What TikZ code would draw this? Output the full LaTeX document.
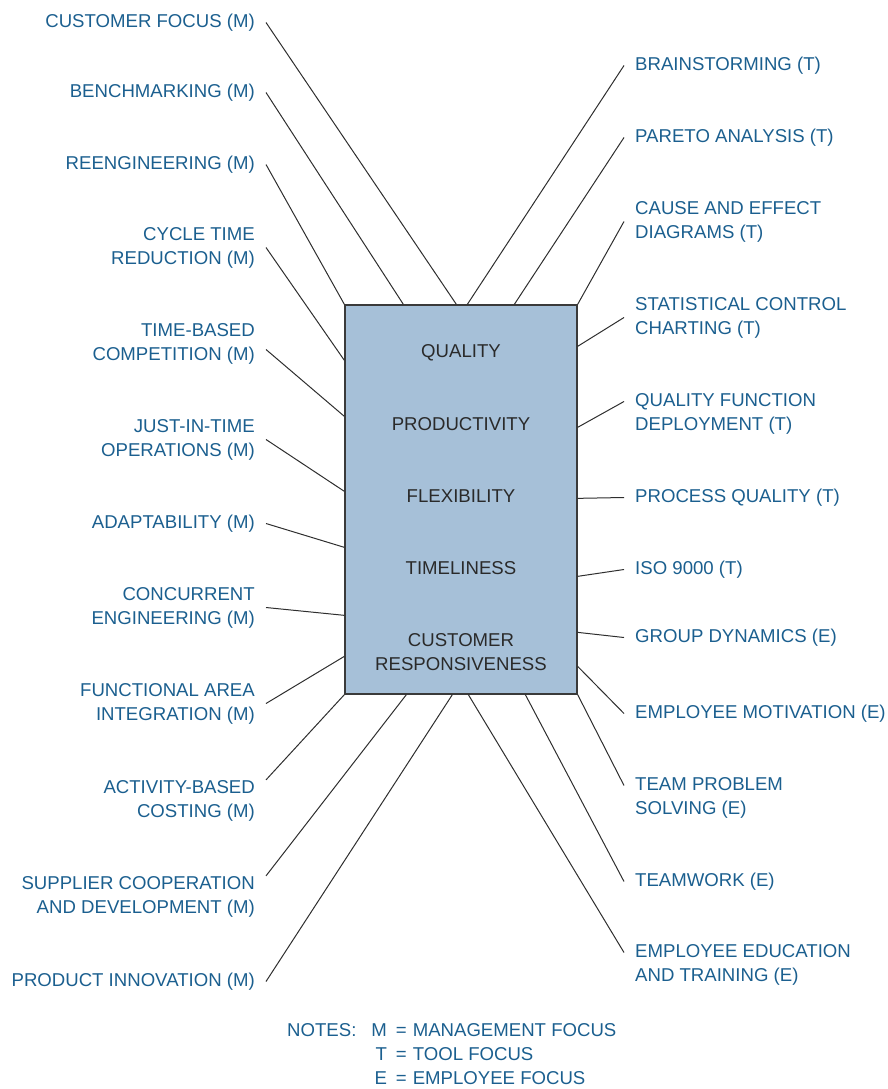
\documentclass[tikz,border=0pt]{standalone}
\usepackage{fontspec}
\setmainfont{Liberation Sans}
\usepackage{tikz}
\definecolor{FocusBlue}{HTML}{1B5F8F}
\definecolor{BoxFill}{HTML}{A6C0D8}
\definecolor{BoxEdge}{HTML}{3A3A3A}
\definecolor{LineGray}{HTML}{2E2E2E}
\definecolor{FactorText}{HTML}{2A2A2A}
\newcommand{\figfont}{\fontsize{18.6}{24}\selectfont}

\begin{document}
\begin{tikzpicture}[x=1pt,y=-1pt,
    leftlabel/.style={text=FocusBlue,font=\figfont,anchor=east,align=right,inner xsep=11pt,inner ysep=0pt,yshift=-2.5pt},
    rightlabel/.style={text=FocusBlue,font=\figfont,anchor=west,align=left,inner xsep=11pt,inner ysep=0pt,yshift=-2.5pt},
    factor/.style={text=FactorText,font=\figfont,align=center,inner sep=0pt},
    spoke/.style={LineGray,line width=1pt}]
  \useasboundingbox (0,0) rectangle (887,1089);

  \node[draw=BoxEdge,fill=BoxFill,line width=1.3pt,minimum width=232pt,minimum height=389pt,inner sep=0pt] (box) at (461,499.5) {};
  \node[factor] (qual) at (461,353) {QUALITY};
  \node[factor] (prod) at (461,424) {PRODUCTIVITY};
  \node[factor] (flex) at (461,496) {FLEXIBILITY};
  \node[factor] (time) at (461,568) {TIMELINESS};
  \node[factor] (resp) at (461,652) {CUSTOMER\\RESPONSIVENESS};

  % management focus
  \node[leftlabel] (cf) at (266,20) {CUSTOMER FOCUS (M)};
  \node[leftlabel] (bm) at (266,90) {BENCHMARKING (M)};
  \node[leftlabel] (re) at (266,162) {REENGINEERING (M)};
  \node[leftlabel] (ctr) at (266,245) {CYCLE TIME\\REDUCTION (M)};
  \node[leftlabel] (tbc) at (266,341) {TIME-BASED\\COMPETITION (M)};
  \node[leftlabel] (jit) at (266,437) {JUST-IN-TIME\\OPERATIONS (M)};
  \node[leftlabel] (adp) at (266,521) {ADAPTABILITY (M)};
  \node[leftlabel] (ce) at (266,605) {CONCURRENT\\ENGINEERING (M)};
  \node[leftlabel] (fai) at (266,701) {FUNCTIONAL AREA\\INTEGRATION (M)};
  \node[leftlabel] (abc) at (266,798) {ACTIVITY-BASED\\COSTING (M)};
  \node[leftlabel] (scd) at (266,894) {SUPPLIER COOPERATION\\AND DEVELOPMENT (M)};
  \node[leftlabel] (pi) at (266,979) {PRODUCT INNOVATION (M)};

  % tool and employee focus
  \node[rightlabel] (brs) at (624,63) {BRAINSTORMING (T)};
  \node[rightlabel] (pa) at (624,135) {PARETO ANALYSIS (T)};
  \node[rightlabel] (ced) at (624,219) {CAUSE AND EFFECT\\DIAGRAMS (T)};
  \node[rightlabel] (scc) at (624,315) {STATISTICAL CONTROL\\CHARTING (T)};
  \node[rightlabel] (qfd) at (624,411) {QUALITY FUNCTION\\DEPLOYMENT (T)};
  \node[rightlabel] (pq) at (624,495) {PROCESS QUALITY (T)};
  \node[rightlabel] (iso) at (624,567) {ISO 9000 (T)};
  \node[rightlabel] (gd) at (624,635) {GROUP DYNAMICS (E)};
  \node[rightlabel] (em) at (624,711) {EMPLOYEE MOTIVATION (E)};
  \node[rightlabel] (tps) at (624,795) {TEAM PROBLEM\\SOLVING (E)};
  \node[rightlabel] (tw) at (624,879) {TEAMWORK (E)};
  \node[rightlabel] (eet) at (624,962) {EMPLOYEE EDUCATION\\AND TRAINING (E)};

  \draw[spoke] (cf.east) -- ([xshift=112]box.north west);
  \draw[spoke] (bm.east) -- ([xshift=59]box.north west);
  \draw[spoke] (re.east) -- (box.north west);
  \draw[spoke] (ctr.east) -- ([yshift=-56]box.north west);
  \draw[spoke] ([yshift=-6]tbc.east) -- ([yshift=-112]box.north west);
  \draw[spoke] (jit.east) -- ([yshift=-187]box.north west);
  \draw[spoke] (adp.east) -- ([yshift=-243]box.north west);
  \draw[spoke] (ce.east) -- ([yshift=-311]box.north west);
  \draw[spoke] (fai.east) -- ([yshift=-352]box.north west);
  \draw[spoke] (abc.north east) -- (box.south west);
  \draw[spoke] (scd.north east) -- ([xshift=62]box.south west);
  \draw[spoke] (pi.east) -- ([xshift=108]box.south west);

  \draw[spoke] ([xshift=123]box.north west) -- (brs.west);
  \draw[spoke] ([xshift=170]box.north west) -- (pa.west);
  \draw[spoke] (box.north east) -- (ced.west);
  \draw[spoke] ([yshift=-42]box.north east) -- (scc.west);
  \draw[spoke] ([yshift=-123]box.north east) -- ([yshift=12]qfd.west);
  \draw[spoke] ([yshift=-194]box.north east) -- (pq.west);
  \draw[spoke] ([yshift=-272]box.north east) -- (iso.west);
  \draw[spoke] ([yshift=-328]box.north east) -- (gd.west);
  \draw[spoke] ([yshift=-362]box.north east) -- (em.west);
  \draw[spoke] (box.south east) -- ([yshift=12]tps.west);
  \draw[spoke] ([xshift=181]box.south west) -- (tw.west);
  \draw[spoke] ([xshift=124]box.south west) -- ([yshift=12]eet.west);

  \node[text=FocusBlue,font=\figfont,anchor=north west,inner sep=0pt] (notes) at (287,1019)
    {\begin{tabular}{@{}l@{\hspace{15pt}}r@{\hspace{9pt}=\hspace{6pt}}l@{}}
      NOTES: & M & MANAGEMENT FOCUS\\
             & T & TOOL FOCUS\\
             & E & EMPLOYEE FOCUS
     \end{tabular}};
\end{tikzpicture}
\end{document}
